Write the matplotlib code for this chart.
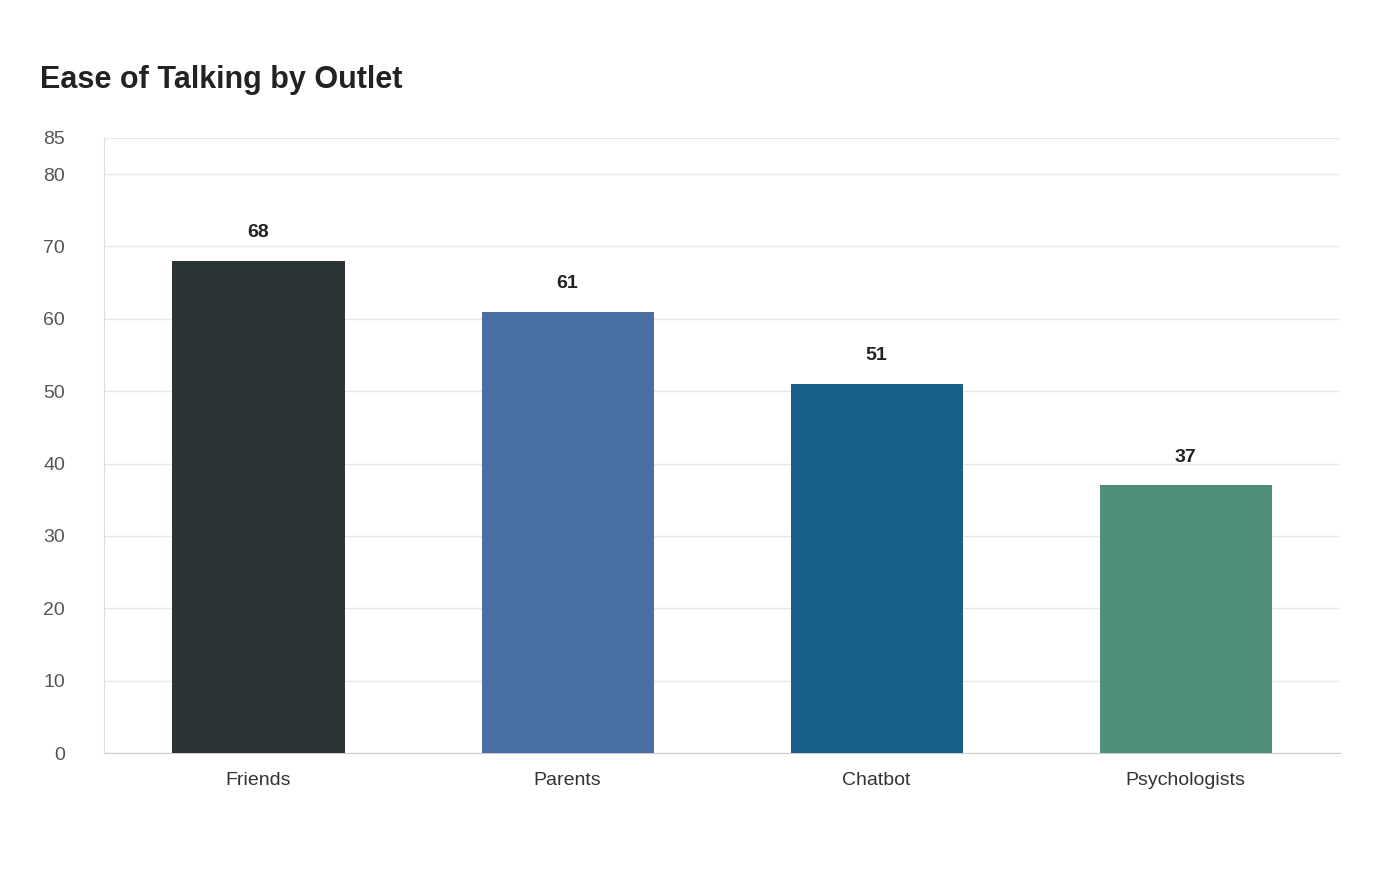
import matplotlib
matplotlib.use("Agg")
import matplotlib.pyplot as plt

outlets = ["Friends", "Parents", "Chatbot", "Psychologists"]
ease_scores = [68, 61, 51, 37]
bar_colors = ["#2d3436", "#4a6fa5", "#166088", "#4f8f7a"]
y_ticks = [0, 10, 20, 30, 40, 50, 60, 70, 80, 85]

plt.rcParams["font.family"] = ["Liberation Sans", "DejaVu Sans"]

fig = plt.figure(figsize=(14, 8.8), dpi=100)
ax = fig.add_axes([0.0743, 0.1443, 0.883, 0.699])

x = range(len(outlets))
ax.bar(x, ease_scores, width=0.557, color=bar_colors, zorder=3)
for i, v in zip(x, ease_scores):
    ax.annotate(str(v), (i, v), xytext=(0, 14), textcoords="offset points",
                ha="center", va="bottom", fontsize=14, fontweight="bold", color="#222222")

ax.set_xlim(-0.5, 3.5)
ax.set_ylim(0, 85)
ax.set_yticks(y_ticks)
ax.set_xticks(list(x))
ax.set_xticklabels(outlets)
ax.tick_params(axis="y", length=0, labelsize=14, colors="#555555", pad=28)
ax.tick_params(axis="x", length=0, labelsize=14, colors="#333333", pad=14)
for lab in ax.get_yticklabels():
    lab.set_horizontalalignment("right")
ax.grid(axis="y", color="#e8e8e8", linewidth=1, zorder=0)
for side in ["top", "right"]:
    ax.spines[side].set_visible(False)
ax.spines["left"].set_color("#dddddd")
ax.spines["bottom"].set_color("#cccccc")

fig.text(40 / 1400, 1 - 80 / 880, "Ease of Talking by Outlet", fontsize=22,
         fontweight="bold", color="#222222", va="center", ha="left")

fig.savefig("out.png", dpi=100)
